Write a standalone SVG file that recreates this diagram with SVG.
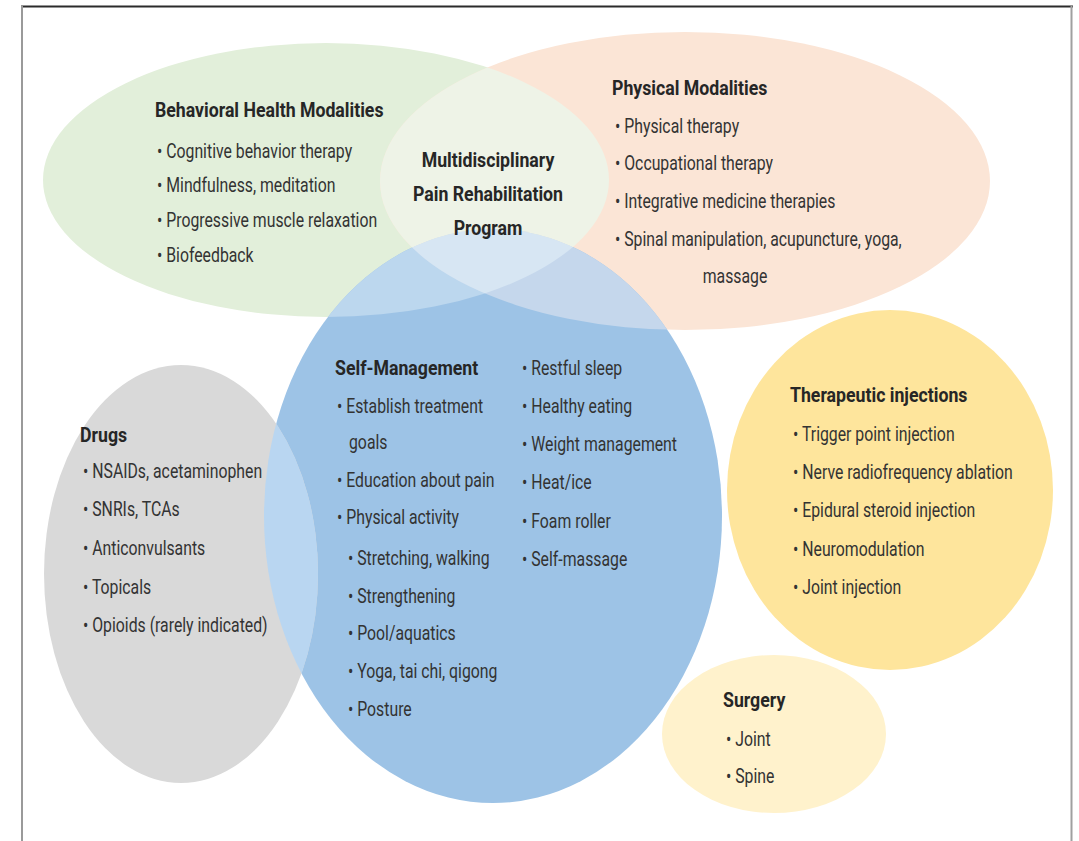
<svg xmlns="http://www.w3.org/2000/svg" width="1079" height="841" viewBox="0 0 1079 841">
<style>
.h{font-family:Roboto,"Liberation Sans",sans-serif;font-weight:700;font-size:20px;fill:#262626}
.t{font-family:Roboto,"Liberation Sans",sans-serif;font-weight:400;font-size:20px;fill:#333333}
.c{text-anchor:middle}
</style>
<defs>
<clipPath id="clipGreen"><ellipse cx="326" cy="180" rx="283" ry="137"/></clipPath>
<clipPath id="clipPeach"><ellipse cx="685" cy="181" rx="305" ry="149"/></clipPath>
<clipPath id="clipBlue"><ellipse cx="493" cy="516" rx="229" ry="287"/></clipPath>
<mask id="notBlue" maskUnits="userSpaceOnUse" x="0" y="0" width="1079" height="841">
<rect x="0" y="0" width="1079" height="841" fill="#fff"/>
<ellipse cx="493" cy="516" rx="229" ry="287" fill="#000"/>
</mask>
</defs>
<rect x="0" y="0" width="1079" height="841" fill="#ffffff"/>
<g id="frame">
<line x1="21" y1="6.5" x2="1073" y2="6.5" stroke="#2b2b2b" stroke-width="2"/>
<line x1="22" y1="6" x2="22" y2="841" stroke="#9a9a9a" stroke-width="2"/>
<line x1="1071.5" y1="6" x2="1071.5" y2="841" stroke="#a0a0a0" stroke-width="2"/>
</g>
<g id="node-behavioral">
<ellipse cx="326" cy="180" rx="283" ry="137" fill="#e2efda"/>
<text class="h" transform="translate(155 117) scale(0.885 1)">Behavioral Health Modalities</text>
<text class="t" transform="translate(157 158) scale(0.79 1)">• Cognitive behavior therapy</text>
<text class="t" transform="translate(157 192) scale(0.79 1)">• Mindfulness, meditation</text>
<text class="t" transform="translate(157 227) scale(0.79 1)">• Progressive muscle relaxation</text>
<text class="t" transform="translate(157 262) scale(0.79 1)">• Biofeedback</text>
</g>
<g id="node-physical">
<ellipse cx="685" cy="181" rx="305" ry="149" fill="#fbe5d6"/>
<text class="h" transform="translate(612 95) scale(0.885 1)">Physical Modalities</text>
<text class="t" transform="translate(615 133) scale(0.79 1)">• Physical therapy</text>
<text class="t" transform="translate(615 170) scale(0.79 1)">• Occupational therapy</text>
<text class="t" transform="translate(615 208) scale(0.79 1)">• Integrative medicine therapies</text>
<text class="t" transform="translate(615 246) scale(0.79 1)">• Spinal manipulation, acupuncture, yoga,</text>
<text class="t c" transform="translate(735 283) scale(0.79 1)">massage</text>
</g>
<g id="node-self-management">
<ellipse cx="493" cy="516" rx="229" ry="287" fill="#9dc3e6"/>
<g clip-path="url(#clipGreen)"><ellipse cx="493" cy="516" rx="229" ry="287" fill="#bcd7ee"/></g>
<g clip-path="url(#clipPeach)"><ellipse cx="493" cy="516" rx="229" ry="287" fill="#c5d7ec"/></g>
<g clip-path="url(#clipPeach)"><g clip-path="url(#clipGreen)"><ellipse cx="493" cy="516" rx="229" ry="287" fill="#d7e6f3"/></g></g>
<text class="h" transform="translate(335 375) scale(0.885 1)">Self-Management</text>
<text class="t" transform="translate(337 413) scale(0.79 1)">• Establish treatment</text>
<text class="t" transform="translate(349 449) scale(0.79 1)">goals</text>
<text class="t" transform="translate(337 487) scale(0.79 1)">• Education about pain</text>
<text class="t" transform="translate(337 524) scale(0.79 1)">• Physical activity</text>
<text class="t" transform="translate(348 565) scale(0.79 1)">• Stretching, walking</text>
<text class="t" transform="translate(348 603) scale(0.79 1)">• Strengthening</text>
<text class="t" transform="translate(348 640) scale(0.79 1)">• Pool/aquatics</text>
<text class="t" transform="translate(348 678) scale(0.79 1)">• Yoga, tai chi, qigong</text>
<text class="t" transform="translate(348 716) scale(0.79 1)">• Posture</text>
<text class="t" transform="translate(522 375) scale(0.79 1)">• Restful sleep</text>
<text class="t" transform="translate(522 413) scale(0.79 1)">• Healthy eating</text>
<text class="t" transform="translate(522 451) scale(0.79 1)">• Weight management</text>
<text class="t" transform="translate(522 489) scale(0.79 1)">• Heat/ice</text>
<text class="t" transform="translate(522 528) scale(0.79 1)">• Foam roller</text>
<text class="t" transform="translate(522 566) scale(0.79 1)">• Self-massage</text>
</g>
<g id="node-multidisciplinary">
<g mask="url(#notBlue)"><g clip-path="url(#clipGreen)"><ellipse cx="685" cy="181" rx="305" ry="149" fill="#eef3e7"/></g></g>
<text class="h c" transform="translate(488 167) scale(0.885 1)">Multidisciplinary</text>
<text class="h c" transform="translate(488 201) scale(0.885 1)">Pain Rehabilitation</text>
<text class="h c" transform="translate(488 235) scale(0.885 1)">Program</text>
</g>
<g id="node-drugs">
<ellipse cx="181" cy="574" rx="137" ry="209" fill="#d9d9d9"/>
<g clip-path="url(#clipBlue)"><ellipse cx="181" cy="574" rx="137" ry="209" fill="#b9d6f1"/></g>
<text class="h" transform="translate(80 442) scale(0.885 1)">Drugs</text>
<text class="t" transform="translate(83 478) scale(0.79 1)">• NSAIDs, acetaminophen</text>
<text class="t" transform="translate(83 516) scale(0.79 1)">• SNRIs, TCAs</text>
<text class="t" transform="translate(83 555) scale(0.79 1)">• Anticonvulsants</text>
<text class="t" transform="translate(83 594) scale(0.79 1)">• Topicals</text>
<text class="t" transform="translate(83 632) scale(0.79 1)">• Opioids (rarely indicated)</text>
</g>
<g id="node-surgery">
<ellipse cx="774" cy="734" rx="112" ry="79" fill="#fff2cc"/>
<text class="h" transform="translate(723 707) scale(0.885 1)">Surgery</text>
<text class="t" transform="translate(726 746) scale(0.79 1)">• Joint</text>
<text class="t" transform="translate(726 783) scale(0.79 1)">• Spine</text>
</g>
<g id="node-injections">
<ellipse cx="890" cy="490" rx="163" ry="180" fill="#fee59c"/>
<text class="h" transform="translate(790 402) scale(0.885 1)">Therapeutic injections</text>
<text class="t" transform="translate(793 441) scale(0.79 1)">• Trigger point injection</text>
<text class="t" transform="translate(793 479) scale(0.79 1)">• Nerve radiofrequency ablation</text>
<text class="t" transform="translate(793 517) scale(0.79 1)">• Epidural steroid injection</text>
<text class="t" transform="translate(793 556) scale(0.79 1)">• Neuromodulation</text>
<text class="t" transform="translate(793 594) scale(0.79 1)">• Joint injection</text>
</g>
<g id="connectors"></g>
</svg>
